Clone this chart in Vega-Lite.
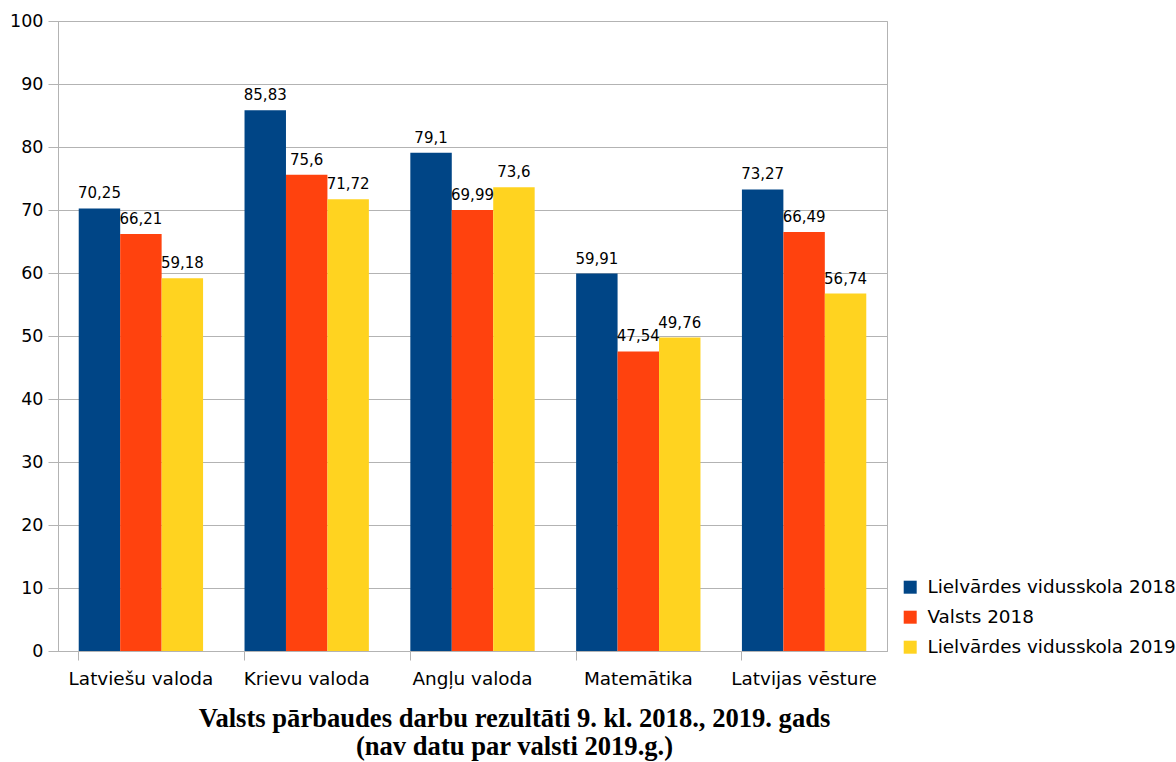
{
  "$schema": "https://vega.github.io/schema/vega-lite/v6.json",
  "width": 829,
  "height": 630,
  "autosize": {"type": "none"},
  "padding": {"left": 58, "top": 21, "right": 289, "bottom": 111},
  "background": "white",
  "title": {
    "text": ["Valsts pārbaudes darbu rezultāti 9. kl. 2018., 2019. gads", "(nav datu par valsti 2019.g.)"],
    "orient": "bottom",
    "anchor": "middle",
    "font": "Liberation Serif",
    "fontWeight": "bold",
    "fontSize": 26.6,
    "lineHeight": 28,
    "color": "black",
    "dx": 42,
    "offset": 19
  },
  "data": {
    "values": [
      {"subject": "Latviešu valoda", "series": "Lielvārdes vidusskola 2018", "value": 70.25},
      {"subject": "Latviešu valoda", "series": "Valsts 2018", "value": 66.21},
      {"subject": "Latviešu valoda", "series": "Lielvārdes vidusskola 2019", "value": 59.18},
      {"subject": "Krievu valoda", "series": "Lielvārdes vidusskola 2018", "value": 85.83},
      {"subject": "Krievu valoda", "series": "Valsts 2018", "value": 75.6},
      {"subject": "Krievu valoda", "series": "Lielvārdes vidusskola 2019", "value": 71.72},
      {"subject": "Angļu valoda", "series": "Lielvārdes vidusskola 2018", "value": 79.1},
      {"subject": "Angļu valoda", "series": "Valsts 2018", "value": 69.99},
      {"subject": "Angļu valoda", "series": "Lielvārdes vidusskola 2019", "value": 73.6},
      {"subject": "Matemātika", "series": "Lielvārdes vidusskola 2018", "value": 59.91},
      {"subject": "Matemātika", "series": "Valsts 2018", "value": 47.54},
      {"subject": "Matemātika", "series": "Lielvārdes vidusskola 2019", "value": 49.76},
      {"subject": "Latvijas vēsture", "series": "Lielvārdes vidusskola 2018", "value": 73.27},
      {"subject": "Latvijas vēsture", "series": "Valsts 2018", "value": 66.49},
      {"subject": "Latvijas vēsture", "series": "Lielvārdes vidusskola 2019", "value": 56.74}
    ]
  },
  "encoding": {
    "x": {
      "field": "subject",
      "type": "nominal",
      "sort": null,
      "scale": {"paddingInner": 0.25, "paddingOuter": 0.125},
      "axis": {
        "title": null,
        "labelAngle": 0,
        "bandPosition": 0,
        "grid": false,
        "domainColor": "#b3b3b3",
        "tickColor": "#b3b3b3",
        "tickSize": 9,
        "labelPadding": 9,
        "labelFont": "DejaVu Sans",
        "labelFontSize": 18.4,
        "labelColor": "black"
      }
    },
    "xOffset": {
      "field": "series",
      "type": "nominal",
      "sort": ["Lielvārdes vidusskola 2018", "Valsts 2018", "Lielvārdes vidusskola 2019"],
      "scale": {"paddingInner": 0, "paddingOuter": 0}
    },
    "y": {
      "field": "value",
      "type": "quantitative",
      "scale": {"domain": [0, 100], "nice": false},
      "axis": {
        "title": null,
        "values": [0, 10, 20, 30, 40, 50, 60, 70, 80, 90, 100],
        "gridColor": "#b3b3b3",
        "domainColor": "#b3b3b3",
        "tickColor": "#b3b3b3",
        "tickSize": 10,
        "labelPadding": 5,
        "labelFont": "DejaVu Sans",
        "labelFontSize": 17.5,
        "labelColor": "black"
      }
    }
  },
  "layer": [
    {
      "mark": {"type": "bar"},
      "encoding": {
        "color": {
          "field": "series",
          "type": "nominal",
          "sort": ["Lielvārdes vidusskola 2018", "Valsts 2018", "Lielvārdes vidusskola 2019"],
          "scale": {
            "domain": ["Lielvārdes vidusskola 2018", "Valsts 2018", "Lielvārdes vidusskola 2019"],
            "range": ["#004586", "#ff420e", "#ffd320"]
          },
          "legend": {
            "title": null,
            "orient": "none",
            "legendX": 843,
            "legendY": 557,
            "symbolType": "square",
            "symbolSize": 169,
            "symbolStrokeWidth": 0,
            "labelFont": "DejaVu Sans",
            "labelFontSize": 18.4,
            "labelColor": "black",
            "labelOffset": 8,
            "rowPadding": 11,
            "labelLimit": 400
          }
        }
      }
    },
    {
      "mark": {"type": "text", "baseline": "alphabetic", "dy": -10, "font": "DejaVu Sans", "fontSize": 15, "color": "black"},
      "encoding": {
        "text": {"field": "value", "type": "quantitative", "format": "~f"}
      }
    }
  ],
  "config": {
    "locale": {
      "number": {"decimal": ",", "thousands": " ", "grouping": [3], "currency": ["", " €"]}
    },
    "view": {"stroke": "#b3b3b3"},
    "axis": {"gridColor": "#b3b3b3"}
  }
}
